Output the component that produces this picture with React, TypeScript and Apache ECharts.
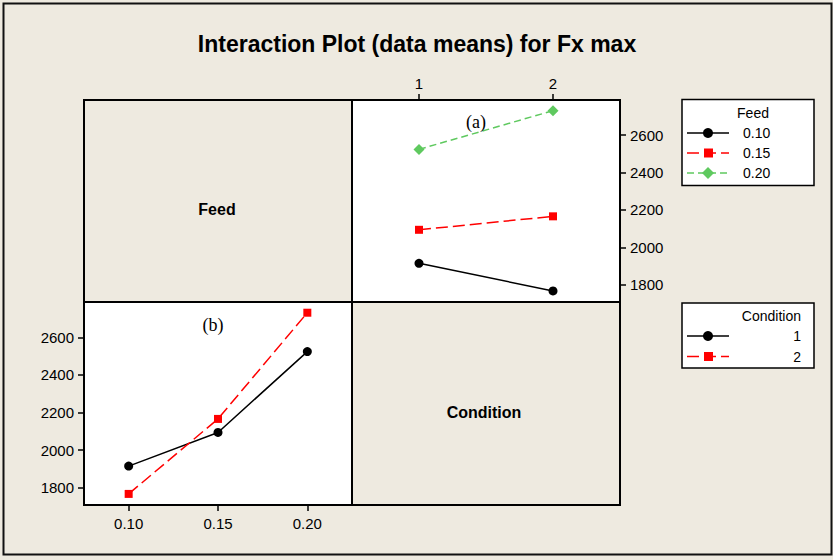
import React, { useEffect, useRef } from "react";
import * as echarts from "echarts";

// Mean Fx max for each Feed level (rows) at each Condition (columns)
const feedLevels = ["0.10", "0.15", "0.20"];
const conditionLevels = ["1", "2"];
const meansFeed010 = [1915, 1767];
const meansFeed015 = [2094, 2166];
const meansFeed020 = [2524, 2731];
const meansByFeed = [meansFeed010, meansFeed015, meansFeed020];

const yTicks = [1800, 2000, 2200, 2400, 2600];
const yMin = 1708;
const yMax = 2788;

const titleText = "Interaction Plot (data means) for Fx max";

const BG = "#EEEAE0";
const FONT = "Liberation Sans, Arial, sans-serif";

type Style = { color: string; dash: number[] | "solid"; symbol: string; size: number };
const feedStyles: Style[] = [
  { color: "#000000", dash: "solid", symbol: "circle", size: 9 },
  { color: "#FF0000", dash: [12, 5], symbol: "rect", size: 8 },
  { color: "#5FC95F", dash: [7, 4], symbol: "diamond", size: 11 },
];
const conditionStyles: Style[] = [feedStyles[0], feedStyles[1]];

export default function App() {
  const ref = useRef<HTMLDivElement>(null);

  useEffect(() => {
    document.body.style.margin = "0";
    const chart = echarts.init(ref.current!, null, { renderer: "svg" });

    const axisLabel = {
      color: "#000",
      fontSize: 15,
      fontFamily: FONT,
      formatter: (v: number | string) => String(v),
    };
    const tick = { show: true, length: 6, lineStyle: { color: "#000", width: 1.5 } };

    // Feed lines across Condition (upper right panel)
    const feedSeries = feedLevels.map((f, i) => ({
      name: f,
      type: "line",
      xAxisIndex: 0,
      yAxisIndex: 0,
      data: meansByFeed[i],
      symbol: feedStyles[i].symbol,
      symbolSize: feedStyles[i].size,
      itemStyle: { color: feedStyles[i].color },
      lineStyle: { color: feedStyles[i].color, width: 1.5, type: feedStyles[i].dash },
      z: 5,
    }));

    // Condition lines across Feed (lower left panel)
    const conditionSeries = conditionLevels.map((c, j) => ({
      name: c,
      type: "line",
      xAxisIndex: 1,
      yAxisIndex: 1,
      data: meansByFeed.map((row) => row[j]),
      symbol: conditionStyles[j].symbol,
      symbolSize: conditionStyles[j].size,
      itemStyle: { color: conditionStyles[j].color },
      lineStyle: { color: conditionStyles[j].color, width: 1.5, type: conditionStyles[j].dash },
      z: 5,
    }));

    // Legend boxes drawn as graphic groups
    const legendItem = (s: Style, y: number) => {
      const items: any[] = [
        {
          type: "line",
          shape: { x1: 687, y1: y, x2: 729, y2: y },
          style: { stroke: s.color, lineWidth: 1.3, lineDash: s.dash === "solid" ? null : s.dash },
        },
      ];
      if (s.symbol === "circle") {
        items.push({ type: "circle", shape: { cx: 708, cy: y, r: 5 }, style: { fill: s.color } });
      } else if (s.symbol === "rect") {
        items.push({ type: "rect", shape: { x: 704, y: y - 4.5, width: 9, height: 9 }, style: { fill: s.color } });
      } else {
        items.push({
          type: "polygon",
          shape: { points: [[708, y - 6], [714, y], [708, y + 6], [702, y]] },
          style: { fill: s.color },
        });
      }
      return items;
    };

    const feedLegend: any[] = [
      { type: "rect", shape: { x: 682, y: 99.5, width: 132, height: 86 }, style: { fill: "#fff", stroke: "#000", lineWidth: 1.5 } },
      { type: "text", x: 753, y: 113, style: { text: "Feed", fill: "#000", font: `14px ${FONT}`, align: "center", verticalAlign: "middle" } },
    ];
    feedLevels.forEach((f, i) => {
      const y = 133 + i * 20;
      feedLegend.push(...legendItem(feedStyles[i], y));
      feedLegend.push({ type: "text", x: 743, y, style: { text: f, fill: "#000", font: `14px ${FONT}`, align: "left", verticalAlign: "middle" } });
    });

    const condLegend: any[] = [
      { type: "rect", shape: { x: 682, y: 303, width: 132, height: 65 }, style: { fill: "#fff", stroke: "#000", lineWidth: 1.5 } },
      { type: "text", x: 801, y: 316, style: { text: "Condition", fill: "#000", font: `14px ${FONT}`, align: "right", verticalAlign: "middle" } },
    ];
    conditionLevels.forEach((c, j) => {
      const y = 336 + j * 20.5;
      condLegend.push(...legendItem(conditionStyles[j], y));
      condLegend.push({ type: "text", x: 801, y, style: { text: c, fill: "#000", font: `14px ${FONT}`, align: "right", verticalAlign: "middle" } });
    });

    chart.setOption({
      animation: false,
      backgroundColor: BG,
      grid: [
        { left: 352, top: 100, width: 268, height: 202, show: true, backgroundColor: "#fff", borderColor: "#000", borderWidth: 2 },
        { left: 84, top: 302, width: 268, height: 203, show: true, backgroundColor: "#fff", borderColor: "#000", borderWidth: 2 },
      ],
      xAxis: [
        {
          gridIndex: 0,
          type: "category",
          data: conditionLevels,
          position: "top",
          boundaryGap: true,
          axisLine: { show: false },
          axisTick: { ...tick, alignWithLabel: true },
          axisLabel: { ...axisLabel, margin: 9 },
          splitLine: { show: false },
        },
        {
          gridIndex: 1,
          type: "category",
          data: feedLevels,
          position: "bottom",
          boundaryGap: true,
          axisLine: { show: false },
          axisTick: { ...tick, alignWithLabel: true },
          axisLabel: { ...axisLabel, margin: 11 },
          splitLine: { show: false },
        },
      ],
      yAxis: [
        {
          gridIndex: 0,
          type: "value",
          position: "right",
          min: yMin,
          max: yMax,
          axisLine: { show: false },
          axisTick: { ...tick, customValues: yTicks },
          axisLabel: { ...axisLabel, margin: 10, customValues: yTicks },
          splitLine: { show: false },
        },
        {
          gridIndex: 1,
          type: "value",
          position: "left",
          min: yMin,
          max: yMax,
          axisLine: { show: false },
          axisTick: { ...tick, customValues: yTicks },
          axisLabel: { ...axisLabel, margin: 10, customValues: yTicks },
          splitLine: { show: false },
        },
      ],
      series: [...feedSeries, ...conditionSeries],
      graphic: [
        { type: "rect", shape: { x: 3.5, y: 3.5, width: 828, height: 551 }, style: { fill: "none", stroke: "#111", lineWidth: 2 }, z: 0 },
        { type: "text", x: 417, y: 44, style: { text: titleText, fill: "#000", font: `bold 23px ${FONT}`, align: "center", verticalAlign: "middle" } },
        // Empty diagonal panels holding the factor names
        { type: "rect", shape: { x: 84, y: 100, width: 268, height: 202 }, style: { fill: "none", stroke: "#000", lineWidth: 2 } },
        { type: "rect", shape: { x: 352, y: 302, width: 268, height: 203 }, style: { fill: "none", stroke: "#000", lineWidth: 2 } },
        { type: "text", x: 217, y: 209, style: { text: "Feed", fill: "#000", font: `bold 16px ${FONT}`, align: "center", verticalAlign: "middle" } },
        { type: "text", x: 484, y: 412, style: { text: "Condition", fill: "#000", font: `bold 16px ${FONT}`, align: "center", verticalAlign: "middle" } },
        { type: "text", x: 476, y: 122, z: 10, style: { text: "(a)", fill: "#000", font: `18px Liberation Serif, serif`, align: "center", verticalAlign: "middle" } },
        { type: "text", x: 213, y: 325, z: 10, style: { text: "(b)", fill: "#000", font: `18px Liberation Serif, serif`, align: "center", verticalAlign: "middle" } },
        ...feedLegend,
        ...condLegend,
      ],
    });

    return () => chart.dispose();
  }, []);

  return <div ref={ref} style={{ width: 833, height: 560 }} />;
}
